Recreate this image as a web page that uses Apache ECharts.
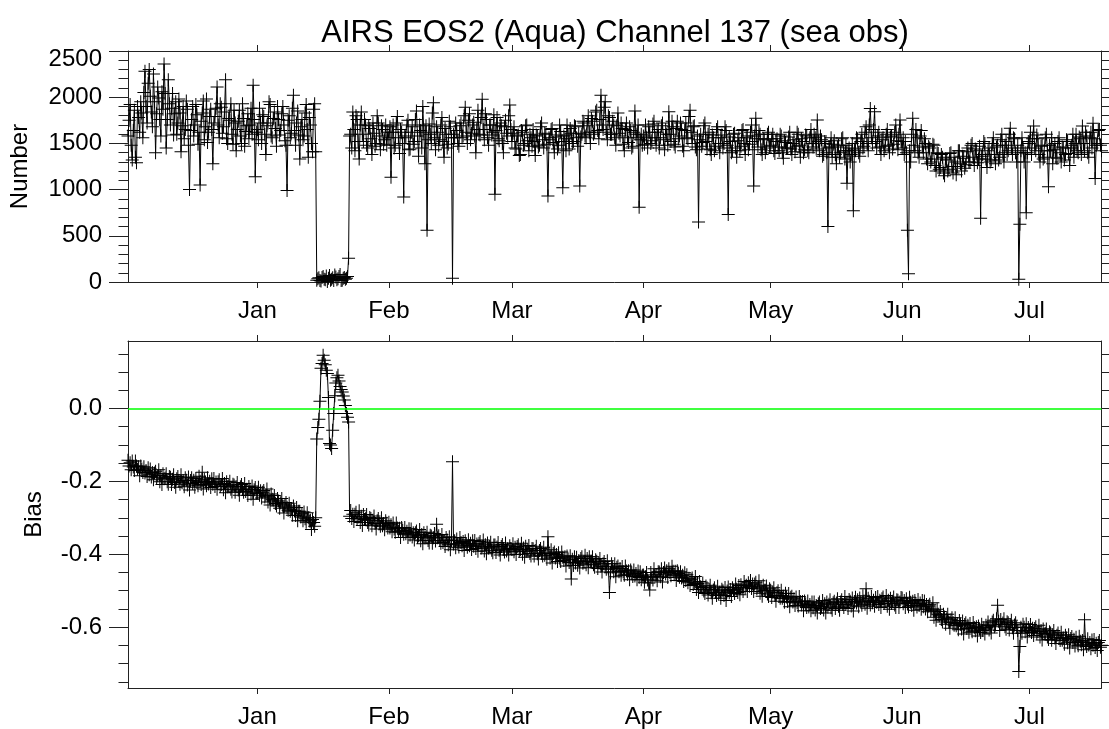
<!DOCTYPE html>
<html><head><meta charset="utf-8">
<script src="https://cdn.jsdelivr.net/npm/echarts@6/dist/echarts.min.js"></script>
<style>html,body{margin:0;padding:0;background:#fff}#c{width:1109px;height:729px}</style>
</head><body><div id="c"></div>
<script>
// Each month's series starts at this time and is sampled every 6 hours
const monthStarts = ['2003-12-01T12:00:00Z','2004-01-01T00:00:00Z','2004-02-01T00:00:00Z','2004-03-01T00:00:00Z','2004-04-01T00:00:00Z','2004-05-01T00:00:00Z','2004-06-01T00:00:00Z','2004-07-01T00:00:00Z'];
const axisStart = '2003-12-01T12:00:00Z';
const axisEnd = '2004-07-18T00:00:00Z';
const monthTicks = ['2004-01-01T00:00:00Z','2004-02-01T00:00:00Z','2004-03-01T00:00:00Z','2004-04-01T00:00:00Z','2004-05-01T00:00:00Z','2004-06-01T00:00:00Z','2004-07-01T00:00:00Z'];
const monthNames = ['Jan','Feb','Mar','Apr','May','Jun','Jul','Aug','Sep','Oct','Nov','Dec'];

const numDec = [
1580,1750,1920,1480,1320,1640,1860,1350,1290,1900,1780,1620,1950,1830,1560,2050,2280,1900,1720,2150,
2300,2010,1840,1680,2250,1950,1400,1820,2110,1990,1760,1580,2060,1870,2360,2040,1450,1760,2190,1930,
1700,1880,2040,1590,1820,1950,1600,1720,1980,1830,1410,1690,1900,1550,1650,1960,1870,1480,1000,1640,
1760,1900,1580,1700,1920,1810,1490,1620,1050,1740,1830,1960,1540,1680,1980,1510,1620,1790,1870,1650,
1280,1720,1790,1880,2110,1700,1560,1930,1890,1610,1680,1840,2190,1550,1500,1770,1750,1930,1600,1490,
1860,1720,1420,1650,1740,1860,1580,1500,1930,1770,1470,1630,1690,1820,1550,1700,1880,1600,2130,1760,
1140,1620];
const numJan = [
1650,1540,1880,1720,1500,1810,1790,1600,1380,1690,1720,1950,1920,1580,1560,1770,1840,1660,1470,1900,
1760,1590,1640,1820,1900,1700,1530,1480,990,1750,1800,1560,1610,1880,2020,1640,1480,1720,1850,1590,
1330,1680,1760,1540,1580,1830,1920,1650,1350,1780,1700,1500,1410,1870,1930,1410,20,35,45,15,
10,50,60,30,25,65,5,40,70,20,30,45,15,75,55,25,35,60,80,15,
20,40,50,30,40,60,256,1580,1600,1450,1840,1650,1420,1800,1760,1520,1330,1700,1840,1600,
1520,1760,1700,1480,1450,1690,1660,1550,1380,1720,1610,1470,1500,1800,1720,1580,1430,1690,1650,1490,
1540,1700,1480,1620];
const numFeb = [
1560,1680,1135,1620,1700,1450,1480,1720,1790,1560,1390,1650,1620,1500,920,1580,1560,1700,1750,1430,
1440,1620,1680,1490,1520,1760,1850,1580,1360,1700,1640,1450,1900,1620,1280,1690,560,1540,1710,1600,
1500,1830,1940,1560,1430,1680,1620,1480,1540,1700,1780,1520,1350,1660,1600,1450,1490,1740,1680,1560,
40,1600,1560,1720,1640,1500,1470,1690,1720,1560,1580,1800,1890,1620,1500,1750,1820,1540,1610,1700,
1730,1580,1400,1650,1860,1600,1590,1780,1977,1650,1540,1820,1760,1560,1480,1700,1700,1590,1620,1810,
950,1640,1780,1550,1530,1720,1690,1500,1400,1680,1750,1610,1580,1800,1915,1650];
const numMar = [
1520,1610,1680,1450,1440,1580,1590,1370,1380,1640,1620,1480,1500,1690,1700,1530,1420,1600,1560,1470,
1650,1520,1370,1590,1580,1460,1480,1680,1720,1540,1450,1610,1600,1490,930,1560,1540,1650,1660,1510,
1400,1570,1590,1440,1480,1700,1630,1520,1020,1580,1550,1420,1700,1590,1440,1660,1610,1500,1520,1690,
1680,1560,1470,1610,1040,1570,1600,1740,1720,1580,1560,1690,1800,1620,1500,1770,1740,1600,1620,1840,
1860,1640,1550,1760,2020,1700,1650,1890,1950,1620,1540,1800,1780,1600,1600,1740,1700,1560,1480,1690,
1830,1610,1580,1720,1660,1490,1420,1650,1720,1560,1510,1680,1640,1450,1470,1620,1850,1600,1560,1700,
810,1540,1600,1480];
const numApr = [
1580,1490,1700,1560,1450,1680,1620,1500,1530,1710,1740,1560,1480,1620,1650,1450,1560,1690,1720,1540,
1430,1650,1600,1480,1843,1600,1520,1740,1680,1490,1460,1660,1740,1550,1580,1720,1650,1470,1420,1640,
1720,1560,1550,1790,1860,1620,1500,1680,1690,1460,1430,1580,650,1540,1600,1470,1510,1690,1720,1520,
1440,1600,1620,1430,1380,1590,1560,1420,1470,1650,1680,1500,1400,1560,1590,1450,1500,1680,1640,1480,
730,1570,1520,1400,1420,1600,1610,1450,1350,1530,1560,1420,1470,1640,1650,1500,1380,1560,1580,1430,
1490,1620,1700,1520,1040,1580,1771,1550,1460,1640,1600,1430,1380,1550,1540,1400,1450,1600,1620,1470];
const numMay = [
1480,1550,1600,1420,1390,1520,1550,1460,1420,1600,1580,1400,1340,1530,1510,1450,1450,1570,1620,1440,
1380,1500,1540,1410,1470,1620,1600,1480,1350,1550,1520,1400,1430,1590,1580,1420,1400,1560,1650,1500,
1460,1600,1560,1440,1753,1520,1420,1580,1540,1360,1380,1520,1500,1400,600,1450,1460,1560,1350,1490,
1530,1380,1280,1460,1480,1350,1400,1550,1560,1420,1330,1480,1070,1420,1450,1300,1380,1500,770,1440,
1420,1560,1550,1400,1360,1520,1600,1450,1470,1620,1680,1500,1420,1700,1879,1560,1500,1650,1843,1520,
1450,1580,1620,1460,1380,1540,1560,1420,1470,1600,1650,1480,1400,1570,1580,1440,1490,1620,1700,1530,
1430,1600,1753,1520];
const numJun = [
1450,1560,1380,1520,1400,560,90,1420,1300,1600,1771,1480,1420,1650,1560,1400,1350,1580,1640,1460,
1400,1550,1500,1330,1280,1470,1450,1300,1330,1490,1480,1260,1200,1400,1390,1220,1240,1380,1350,1180,
1150,1330,1320,1200,1220,1390,1400,1250,1180,1350,1300,1160,1250,1420,1420,1280,1200,1360,1340,1230,
1270,1410,1450,1300,1300,1480,1500,1350,1260,1440,1420,1290,1330,1470,690,1360,1380,1520,1500,1330,
1240,1420,1450,1300,1320,1500,1560,1380,1280,1460,1480,1320,1350,1540,1600,1400,1300,1480,1520,1380,
1420,1600,1663,1450,1380,1560,1550,1400,1300,1480,30,625,1420,1560,1450,1300,1400,750,1400,1520];
const numJul = [
1500,1620,1380,1550,1688,1450,1420,1590,1550,1380,1300,1470,1480,1330,1350,1560,1600,1420,1030,1480,
1420,1560,1280,1430,1500,1350,1340,1520,1560,1400,1300,1460,1450,1320,1380,1540,1520,1390,1260,1450,
1480,1600,1350,1500,1600,1420,1400,1570,1550,1380,1688,1500,1420,1620,1580,1400,1350,1560,1620,1450,
1717,1550,1120,1480,1500,1640,1650,1480,1420];

const biasDec = [
-0.142,-0.158,-0.149,-0.168,-0.144,-0.161,-0.170,-0.144,-0.158,-0.167,-0.160,-0.185,-0.158,-0.166,-0.176,-0.160,-0.177,-0.170,-0.187,-0.163,
-0.182,-0.166,-0.188,-0.176,-0.196,-0.177,-0.172,-0.190,-0.185,-0.168,-0.201,-0.184,-0.209,-0.179,-0.193,-0.191,-0.179,-0.201,-0.208,-0.187,
-0.189,-0.209,-0.194,-0.182,-0.203,-0.216,-0.193,-0.187,-0.200,-0.208,-0.182,-0.204,-0.198,-0.215,-0.190,-0.197,-0.210,-0.188,-0.224,-0.198,
-0.190,-0.206,-0.197,-0.216,-0.192,-0.203,-0.212,-0.186,-0.200,-0.209,-0.175,-0.221,-0.194,-0.202,-0.212,-0.190,-0.207,-0.200,-0.217,-0.193,
-0.208,-0.192,-0.214,-0.202,-0.222,-0.201,-0.196,-0.214,-0.209,-0.192,-0.223,-0.206,-0.231,-0.201,-0.215,-0.212,-0.200,-0.222,-0.229,-0.208,
-0.210,-0.230,-0.215,-0.203,-0.224,-0.238,-0.215,-0.209,-0.222,-0.230,-0.206,-0.228,-0.222,-0.239,-0.214,-0.222,-0.235,-0.213,-0.249,-0.223,
-0.217,-0.233];
const biasJan = [
-0.232,-0.216,-0.238,-0.226,-0.246,-0.230,-0.225,-0.243,-0.238,-0.221,-0.257,-0.240,-0.265,-0.235,-0.249,-0.251,-0.239,-0.261,-0.268,-0.247,
-0.254,-0.274,-0.259,-0.247,-0.268,-0.287,-0.264,-0.258,-0.271,-0.279,-0.260,-0.282,-0.276,-0.293,-0.268,-0.281,-0.294,-0.272,-0.308,-0.282,
-0.282,-0.298,-0.289,-0.308,-0.284,-0.303,-0.312,-0.286,-0.300,-0.309,-0.307,-0.332,-0.305,-0.313,-0.323,-0.300,-0.084,-0.052,-0.030,0.020,
0.110,0.123,0.146,0.132,0.120,0.105,0.096,0.030,-0.096,-0.100,-0.110,-0.060,-0.014,0.035,0.070,0.084,0.091,0.075,0.060,0.052,
0.045,0.034,0.023,0.008,-0.014,-0.024,-0.037,-0.296,-0.280,-0.302,-0.290,-0.310,-0.290,-0.285,-0.303,-0.298,-0.281,-0.313,-0.296,-0.321,
-0.291,-0.305,-0.303,-0.291,-0.313,-0.320,-0.299,-0.302,-0.322,-0.307,-0.295,-0.316,-0.331,-0.308,-0.302,-0.315,-0.323,-0.300,-0.322,-0.316,
-0.333,-0.308,-0.315,-0.328];
const biasFeb = [
-0.312,-0.328,-0.319,-0.338,-0.314,-0.331,-0.340,-0.314,-0.328,-0.337,-0.329,-0.354,-0.327,-0.335,-0.345,-0.327,-0.344,-0.337,-0.354,-0.330,
-0.347,-0.331,-0.353,-0.341,-0.361,-0.341,-0.336,-0.354,-0.349,-0.332,-0.363,-0.346,-0.371,-0.341,-0.355,-0.352,-0.340,-0.362,-0.369,-0.348,
-0.350,-0.370,-0.355,-0.343,-0.364,-0.318,-0.355,-0.349,-0.362,-0.370,-0.346,-0.368,-0.362,-0.379,-0.354,-0.361,-0.374,-0.352,-0.388,-0.362,
-0.146,-0.372,-0.363,-0.382,-0.358,-0.371,-0.380,-0.354,-0.368,-0.377,-0.365,-0.390,-0.363,-0.371,-0.381,-0.360,-0.377,-0.370,-0.387,-0.363,
-0.378,-0.362,-0.384,-0.372,-0.392,-0.370,-0.365,-0.383,-0.378,-0.361,-0.391,-0.374,-0.399,-0.369,-0.383,-0.379,-0.367,-0.389,-0.396,-0.375,
-0.375,-0.395,-0.380,-0.368,-0.389,-0.402,-0.379,-0.373,-0.386,-0.394,-0.369,-0.391,-0.385,-0.402,-0.377,-0.384];
const biasMar = [
-0.387,-0.371,-0.393,-0.381,-0.401,-0.379,-0.374,-0.392,-0.387,-0.370,-0.400,-0.383,-0.408,-0.378,-0.392,-0.388,-0.376,-0.398,-0.405,-0.384,
-0.385,-0.405,-0.390,-0.378,-0.399,-0.413,-0.390,-0.384,-0.397,-0.405,-0.381,-0.403,-0.397,-0.414,-0.352,-0.397,-0.410,-0.388,-0.424,-0.398,
-0.394,-0.410,-0.401,-0.420,-0.396,-0.411,-0.420,-0.394,-0.408,-0.417,-0.407,-0.432,-0.405,-0.413,-0.423,-0.404,-0.468,-0.414,-0.431,-0.407,
-0.424,-0.408,-0.430,-0.418,-0.438,-0.412,-0.407,-0.425,-0.420,-0.403,-0.429,-0.412,-0.437,-0.407,-0.421,-0.419,-0.407,-0.429,-0.436,-0.415,
-0.419,-0.439,-0.424,-0.412,-0.433,-0.449,-0.426,-0.420,-0.433,-0.441,-0.418,-0.440,-0.505,-0.451,-0.426,-0.435,-0.448,-0.426,-0.462,-0.436,
-0.432,-0.448,-0.439,-0.458,-0.434,-0.449,-0.458,-0.432,-0.446,-0.455,-0.445,-0.470,-0.443,-0.451,-0.461,-0.443,-0.460,-0.453,-0.470,-0.446,
-0.464,-0.448,-0.470,-0.458];
const biasApr = [
-0.457,-0.477,-0.462,-0.450,-0.471,-0.479,-0.498,-0.450,-0.463,-0.471,-0.440,-0.462,-0.456,-0.473,-0.448,-0.449,-0.462,-0.440,-0.476,-0.450,
-0.438,-0.454,-0.445,-0.464,-0.440,-0.450,-0.459,-0.433,-0.447,-0.456,-0.447,-0.472,-0.445,-0.453,-0.463,-0.448,-0.465,-0.458,-0.475,-0.451,
-0.472,-0.456,-0.478,-0.466,-0.486,-0.470,-0.465,-0.483,-0.478,-0.461,-0.497,-0.480,-0.505,-0.475,-0.489,-0.491,-0.479,-0.501,-0.508,-0.487,
-0.492,-0.512,-0.497,-0.485,-0.506,-0.521,-0.498,-0.492,-0.505,-0.513,-0.488,-0.510,-0.504,-0.521,-0.496,-0.500,-0.513,-0.491,-0.527,-0.501,
-0.490,-0.506,-0.497,-0.516,-0.492,-0.499,-0.508,-0.482,-0.496,-0.505,-0.486,-0.511,-0.484,-0.492,-0.502,-0.475,-0.492,-0.485,-0.502,-0.478,
-0.488,-0.472,-0.494,-0.482,-0.502,-0.482,-0.477,-0.495,-0.490,-0.473,-0.507,-0.490,-0.515,-0.485,-0.499,-0.499,-0.487,-0.509,-0.516,-0.495];
const biasMay = [
-0.499,-0.519,-0.504,-0.492,-0.513,-0.529,-0.506,-0.500,-0.513,-0.521,-0.499,-0.521,-0.515,-0.532,-0.507,-0.517,-0.530,-0.508,-0.544,-0.518,
-0.515,-0.531,-0.522,-0.541,-0.517,-0.533,-0.542,-0.516,-0.530,-0.539,-0.530,-0.555,-0.528,-0.536,-0.546,-0.528,-0.545,-0.538,-0.555,-0.531,
-0.547,-0.531,-0.553,-0.541,-0.561,-0.536,-0.531,-0.549,-0.544,-0.527,-0.553,-0.536,-0.561,-0.531,-0.545,-0.537,-0.525,-0.547,-0.554,-0.533,
-0.529,-0.549,-0.534,-0.522,-0.543,-0.554,-0.531,-0.525,-0.538,-0.546,-0.516,-0.538,-0.532,-0.549,-0.524,-0.529,-0.542,-0.520,-0.556,-0.530,
-0.518,-0.534,-0.525,-0.544,-0.520,-0.531,-0.540,-0.514,-0.528,-0.537,-0.495,-0.548,-0.521,-0.529,-0.539,-0.516,-0.533,-0.526,-0.543,-0.519,
-0.532,-0.516,-0.538,-0.526,-0.546,-0.522,-0.517,-0.535,-0.530,-0.513,-0.543,-0.526,-0.551,-0.521,-0.535,-0.529,-0.517,-0.539,-0.546,-0.525,
-0.526,-0.546,-0.531,-0.519];
const biasJun = [
-0.520,-0.536,-0.527,-0.546,-0.522,-0.535,-0.544,-0.518,-0.532,-0.541,-0.529,-0.554,-0.527,-0.535,-0.545,-0.524,-0.541,-0.534,-0.551,-0.527,
-0.544,-0.528,-0.550,-0.538,-0.558,-0.542,-0.537,-0.555,-0.550,-0.533,-0.573,-0.556,-0.581,-0.551,-0.565,-0.569,-0.557,-0.579,-0.586,-0.565,
-0.572,-0.592,-0.577,-0.565,-0.586,-0.603,-0.580,-0.574,-0.587,-0.595,-0.574,-0.596,-0.590,-0.607,-0.582,-0.592,-0.605,-0.583,-0.619,-0.593,
-0.588,-0.604,-0.595,-0.614,-0.590,-0.604,-0.613,-0.587,-0.601,-0.610,-0.599,-0.624,-0.597,-0.605,-0.615,-0.592,-0.609,-0.602,-0.619,-0.595,
-0.602,-0.586,-0.608,-0.596,-0.616,-0.586,-0.581,-0.599,-0.594,-0.577,-0.540,-0.584,-0.609,-0.579,-0.593,-0.589,-0.577,-0.599,-0.606,-0.585,
-0.588,-0.608,-0.593,-0.581,-0.602,-0.617,-0.594,-0.588,-0.601,-0.609,-0.722,-0.653,-0.600,-0.617,-0.592,-0.600,-0.613,-0.591,-0.627,-0.601];
const biasJul = [
-0.609,-0.593,-0.615,-0.603,-0.623,-0.604,-0.599,-0.617,-0.612,-0.595,-0.627,-0.610,-0.635,-0.605,-0.619,-0.617,-0.605,-0.627,-0.634,-0.613,
-0.616,-0.636,-0.621,-0.609,-0.630,-0.645,-0.622,-0.616,-0.629,-0.637,-0.614,-0.636,-0.630,-0.647,-0.622,-0.630,-0.643,-0.621,-0.657,-0.631,
-0.626,-0.642,-0.633,-0.652,-0.628,-0.642,-0.651,-0.625,-0.639,-0.648,-0.637,-0.662,-0.580,-0.643,-0.653,-0.632,-0.649,-0.642,-0.659,-0.635,
-0.650,-0.634,-0.656,-0.644,-0.664,-0.642,-0.637,-0.655,-0.650];

const numberRange = [0, 2500];
const biasRange = [-0.767, 0.185];
const biasMajorTicks = [-0.6, -0.4, -0.2, 0.0];
const biasMinorTicks = [-0.75,-0.7,-0.65,-0.6,-0.55,-0.5,-0.45,-0.4,-0.35,-0.3,-0.25,-0.2,-0.15,-0.1,-0.05,0,0.05,0.1,0.15];

const STEP = 6 * 3600 * 1000;
function build(months) {
  const out = [];
  months.forEach((arr, m) => {
    const t0 = Date.parse(monthStarts[m]);
    arr.forEach((v, j) => out.push([t0 + j * STEP, v]));
  });
  return out;
}
const numData = build([numDec, numJan, numFeb, numMar, numApr, numMay, numJun, numJul]);
const biasData = build([biasDec, biasJan, biasFeb, biasMar, biasApr, biasMay, biasJun, biasJul]);

const T0 = Date.parse(axisStart), T1 = Date.parse(axisEnd);
const tickTimes = monthTicks.map(s => Date.parse(s));
const FONT = '"Liberation Sans", Arial, Helvetica, sans-serif';
const FRAME = '#222';
const CROSS = 'path://M0,6H13V7H0Z M6,0H7V13H6Z';

function xAx(grid, pos, labels) {
  return {
    type: 'value', gridIndex: grid, position: pos, min: T0, max: T1,
    axisLine: { show: true, onZero: false, lineStyle: { color: FRAME, width: 1 } },
    axisTick: { show: true, customValues: tickTimes, length: 6, lineStyle: { color: FRAME, width: 1 } },
    axisLabel: { show: labels, customValues: tickTimes, fontSize: 24, color: '#000', margin: 17, fontFamily: FONT,
      formatter: v => monthNames[new Date(v).getUTCMonth()] },
    splitLine: { show: false }, minorTick: { show: false }
  };
}

const chart = echarts.init(document.getElementById('c'), null, { renderer: 'canvas' });
chart.setOption({
  animation: false,
  backgroundColor: '#fff',
  graphic: [{
    type: 'text', x: 615, y: 18,
    style: { text: 'AIRS EOS2 (Aqua) Channel 137 (sea obs)', fontSize: 31, fontFamily: FONT, fill: '#000', align: 'center', verticalAlign: 'top' }
  }],
  grid: [
    { left: 128, top: 51, width: 973.5, height: 231 },
    { left: 128, top: 341, width: 973.5, height: 347.5 }
  ],
  xAxis: [xAx(0, 'bottom', true), xAx(0, 'top', false), xAx(1, 'bottom', true), xAx(1, 'top', false)],
  yAxis: [
    { type: 'value', gridIndex: 0, position: 'left', min: numberRange[0], max: numberRange[1], interval: 500,
      axisLine: { show: true, lineStyle: { color: FRAME, width: 1 } },
      axisTick: { show: true, length: 19, lineStyle: { color: FRAME, width: 1 } },
      minorTick: { show: true, splitNumber: 5, length: 9.5, lineStyle: { color: FRAME, width: 1 } },
      axisLabel: { fontSize: 24, color: '#000', margin: 26, fontFamily: FONT,
        formatter: v => (v === numberRange[1] ? '{lo|' + v + '}' : String(v)),
        rich: { lo: { fontSize: 24, color: '#000', fontFamily: FONT, padding: [16, 0, 0, 0] } } },
      splitLine: { show: false }, minorSplitLine: { show: false },
      name: 'Number', nameLocation: 'middle', nameRotate: 90, nameGap: 96,
      nameTextStyle: { fontSize: 24, color: '#000', fontFamily: FONT } },
    { type: 'value', gridIndex: 0, position: 'right', min: numberRange[0], max: numberRange[1], interval: 100,
      axisLine: { show: true, lineStyle: { color: FRAME, width: 1 } },
      axisTick: { show: true, length: 9, lineStyle: { color: FRAME, width: 1 } },
      axisLabel: { show: false }, splitLine: { show: false } },
    { type: 'value', gridIndex: 1, position: 'left', min: biasRange[0], max: biasRange[1],
      axisLine: { show: true, lineStyle: { color: FRAME, width: 1 } },
      axisTick: { show: true, customValues: biasMajorTicks, length: 19, lineStyle: { color: FRAME, width: 1 } },
      axisLabel: { customValues: biasMajorTicks, fontSize: 24, color: '#000', margin: 26, fontFamily: FONT,
        formatter: v => Number(v).toFixed(1) },
      splitLine: { show: false },
      name: 'Bias', nameLocation: 'middle', nameRotate: 90, nameGap: 82,
      nameTextStyle: { fontSize: 24, color: '#000', fontFamily: FONT } },
    { type: 'value', gridIndex: 1, position: 'left', min: biasRange[0], max: biasRange[1],
      axisLine: { show: false },
      axisTick: { show: true, customValues: biasMinorTicks, length: 9.5, lineStyle: { color: FRAME, width: 1 } },
      axisLabel: { show: false }, splitLine: { show: false } },
    { type: 'value', gridIndex: 1, position: 'right', min: biasRange[0], max: biasRange[1],
      axisLine: { show: true, lineStyle: { color: FRAME, width: 1 } },
      axisTick: { show: true, customValues: biasMinorTicks, length: 9, lineStyle: { color: FRAME, width: 1 } },
      axisLabel: { show: false }, splitLine: { show: false } }
  ],
  series: [
    { type: 'line', xAxisIndex: 0, yAxisIndex: 0, data: numData, symbol: CROSS, symbolSize: 13, showAllSymbol: true,
      itemStyle: { color: '#000' }, lineStyle: { color: '#000', width: 1 }, emphasis: { disabled: true }, silent: true, clip: true },
    { type: 'line', xAxisIndex: 2, yAxisIndex: 2, data: biasData, symbol: CROSS, symbolSize: 13, showAllSymbol: true,
      itemStyle: { color: '#000' }, lineStyle: { color: '#000', width: 1 }, emphasis: { disabled: true }, silent: true, clip: true,
      markLine: { silent: true, symbol: ['none', 'none'], label: { show: false },
        lineStyle: { color: '#00ff00', width: 1.5, type: 'solid' }, emphasis: { disabled: true }, data: [{ yAxis: 0 }] } }
  ]
});
</script>
</body></html>
